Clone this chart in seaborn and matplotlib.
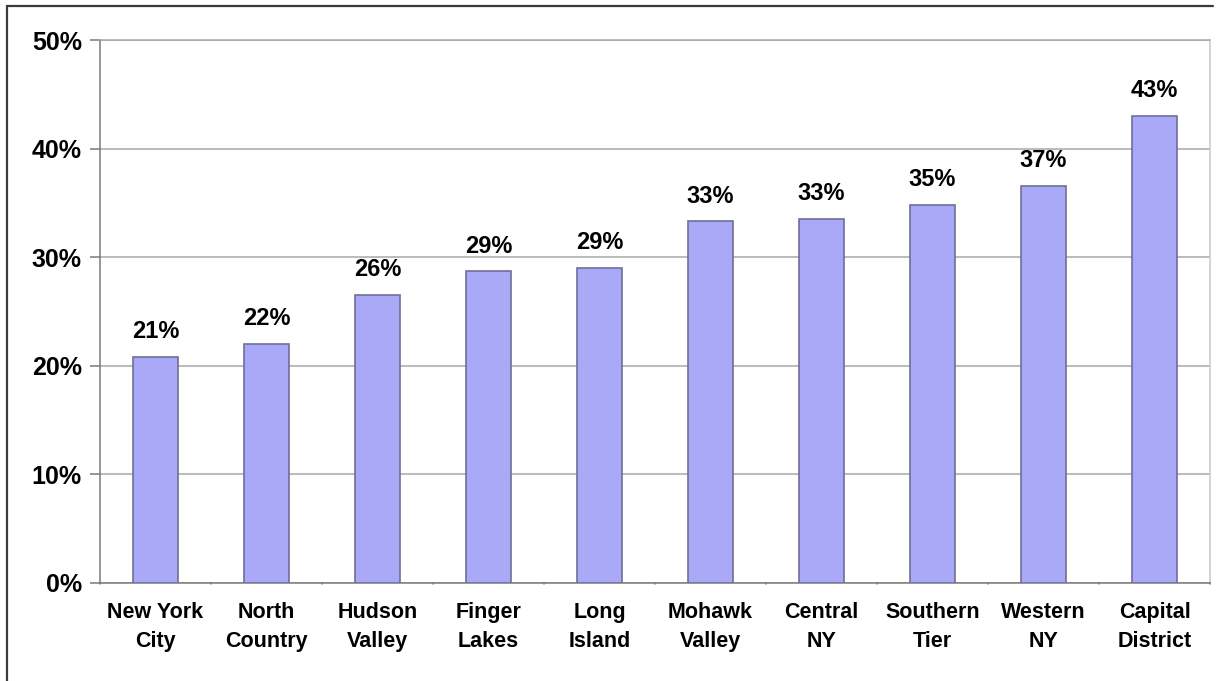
import matplotlib
matplotlib.use("Agg")
import matplotlib.pyplot as plt
from matplotlib.lines import Line2D
from matplotlib.ticker import FuncFormatter, MultipleLocator
import seaborn as sns
import pandas as pd

regions = ["New York\nCity", "North\nCountry", "Hudson\nValley", "Finger\nLakes",
           "Long\nIsland", "Mohawk\nValley", "Central\nNY", "Southern\nTier",
           "Western\nNY", "Capital\nDistrict"]
shares = [20.8, 22.0, 26.5, 28.7, 29.0, 33.3, 33.5, 34.8, 36.6, 43.0]
value_labels = ["21%", "22%", "26%", "29%", "29%", "33%", "33%", "35%", "37%", "43%"]

sns.set_theme(style="white")
plt.rcParams["font.family"] = ["Liberation Sans", "DejaVu Sans"]

df = pd.DataFrame({"region": regions, "share": shares})

fig = plt.figure(figsize=(12.17, 6.81), dpi=100)
ax = fig.add_axes([100 / 1217, 1 - 583 / 681, 1110 / 1217, (583 - 40) / 681])

sns.barplot(data=df, x="region", y="share", ax=ax, color="#A9A9F7",
            saturation=1, width=0.41, edgecolor="#6F6F99", linewidth=1.2,
            zorder=3)

ax.set_xlim(-0.5, len(regions) - 0.5)
ax.set_ylim(0, 50)
ax.yaxis.set_major_locator(MultipleLocator(10))
ax.yaxis.set_major_formatter(FuncFormatter(lambda v, _: f"{v:.0f}%"))
ax.grid(axis="y", color="#A8A8A8", linewidth=1.1, zorder=0)
ax.grid(axis="x", visible=False)
ax.set_xlabel("")
ax.set_ylabel("")

for side in ("left", "bottom"):
    ax.spines[side].set_color("#7A7A7A")
    ax.spines[side].set_linewidth(1.1)
ax.spines["right"].set_color("#C8C8C8")
ax.spines["right"].set_linewidth(1.1)
ax.spines["top"].set_color("#A8A8A8")
ax.spines["top"].set_linewidth(1.1)

ax.tick_params(axis="y", length=7, width=1.1, color="#7A7A7A", pad=6,
               labelsize=18, left=True, labelcolor="black")
ax.tick_params(axis="x", length=0, pad=14, labelsize=15.5, labelcolor="black")
for t in ax.get_yticklabels():
    t.set_fontweight("bold")
for t in ax.get_xticklabels():
    t.set_fontweight("bold")
    t.set_linespacing(1.5)

# small ticks between categories on the x axis
for b in range(len(regions) + 1):
    ax.plot([b - 0.5, b - 0.5], [0, -0.11], color="#7A7A7A", lw=1.1,
            clip_on=False, zorder=4, transform=ax.transData)
ax.set_ylim(0, 50)

for i, (v, lab) in enumerate(zip(shares, value_labels)):
    ax.annotate(lab, xy=(i, v), xytext=(0, 13.5), textcoords="offset points",
                ha="center", va="baseline", fontsize=17, fontweight="bold",
                color="black", zorder=5)

# outer frame around the chart
fig.add_artist(Line2D([7 / 1217, 7 / 1217], [0, 1 - 6 / 681],
                      transform=fig.transFigure, color="#3A3A3A", lw=1.6))
fig.add_artist(Line2D([7 / 1217, 1213 / 1217], [1 - 6 / 681, 1 - 6 / 681],
                      transform=fig.transFigure, color="#3A3A3A", lw=1.6))

fig.savefig("out.png", dpi=100)
